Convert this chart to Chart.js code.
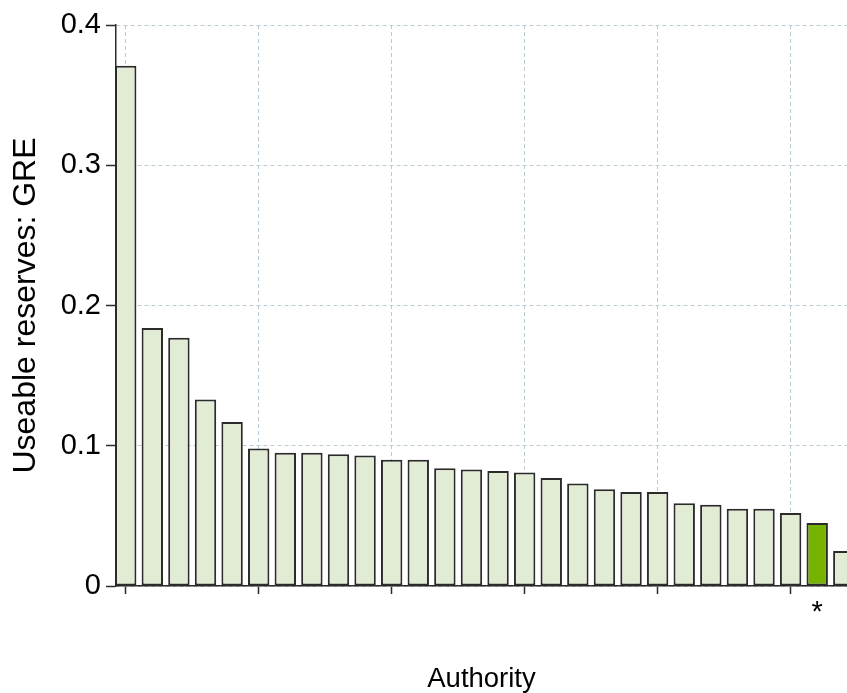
<!DOCTYPE html>
<html>
<head>
<meta charset="utf-8">
<script src="https://cdn.jsdelivr.net/npm/chart.js@4.4.1/dist/chart.umd.min.js"></script>
<style>
  body { margin: 0; background: #fff; overflow: hidden; }
  #wrap { width: 847px; height: 693px; }
</style>
</head>
<body>
<div id="wrap"><canvas id="reserves"></canvas></div>
<script>
// useable reserves per authority, sorted high to low (GRE share)
const reserves = [0.371, 0.184, 0.177, 0.133, 0.117, 0.098, 0.095, 0.095, 0.094, 0.093,
                  0.090, 0.090, 0.084, 0.083, 0.082, 0.081, 0.077, 0.073, 0.069, 0.067,
                  0.067, 0.059, 0.058, 0.055, 0.055, 0.052, 0.045, 0.025];
const highlighted = 26;            // the authority marked with *
const markLabel = '*';
const xTicks = [0, 5, 10, 15, 20, 25];
const yTicks = [0, 0.1, 0.2, 0.3, 0.4];

const paleFill = '#e2ecd5';
const greenFill = '#76b300';
const dark = '#2b2b2b';
const gridColor = '#b8cad4';
const font = 'Liberation Sans, Arial, sans-serif';

const positions = reserves.map((v, i) => i);

const ctx = document.getElementById('reserves');

new Chart(ctx, {
    type: 'bar',
    data: {
        labels: positions,
        datasets: [{
            data: reserves,
            backgroundColor: reserves.map((v, i) => i === highlighted ? greenFill : paleFill),
            borderColor: dark,
            borderWidth: 2,
            borderSkipped: false,
            categoryPercentage: 1,
            barPercentage: 0.805,
            clip: 0
        }]
    },
    options: {
        responsive: true,
        maintainAspectRatio: false,
        animation: false,
        layout: { padding: { top: 25, right: 0, left: 0, bottom: 0 } },
        plugins: {
            legend: { display: false },
            tooltip: { enabled: false }
        },
        scales: {
            x: {
                type: 'linear',
                offset: false,
                min: -0.365,
                max: 27.12,
                afterBuildTicks: scale => {
                    scale.ticks = xTicks.concat([highlighted]).map(v => ({ value: v }));
                },
                afterFit: scale => { scale.height = 107; },
                ticks: {
                    color: '#000',
                    font: { family: font, size: 29 },
                    padding: 2,
                    maxRotation: 0,
                    autoSkip: false,
                    callback: value => value === highlighted ? markLabel : ''
                },
                grid: {
                    offset: false,
                    color: c => c.tick && c.tick.value === highlighted ? 'rgba(0,0,0,0)' : gridColor,
                    tickColor: c => c.tick && c.tick.value === highlighted ? 'rgba(0,0,0,0)' : dark,
                    tickLength: 8,
                    tickWidth: 1.5,
                    lineWidth: 1
                },
                border: { color: dark, width: 1.5, dash: [4, 3] },
                title: {
                    display: true,
                    text: 'Authority',
                    color: '#000',
                    font: { family: font, size: 27.5, lineHeight: 1 },
                    padding: { top: 0, bottom: 0 }
                }
            },
            y: {
                min: 0,
                max: 0.4,
                afterBuildTicks: scale => {
                    scale.ticks = yTicks.map(v => ({ value: v }));
                },
                afterFit: scale => { scale.width = 116; },
                ticks: {
                    color: '#000',
                    font: { family: font, size: 29 },
                    padding: 5,
                    callback: value => String(Math.round(value * 10) / 10)
                },
                grid: {
                    color: gridColor,
                    tickColor: dark,
                    tickLength: 10,
                    tickWidth: 1.5,
                    lineWidth: 1
                },
                border: { color: dark, width: 1.5, dash: [4, 3] },
                title: {
                    display: true,
                    text: 'Useable reserves: GRE',
                    color: '#000',
                    font: { family: font, size: 32, lineHeight: 1.2 },
                    padding: { top: 7, bottom: 0 }
                }
            }
        }
    }
});
</script>
</body>
</html>
